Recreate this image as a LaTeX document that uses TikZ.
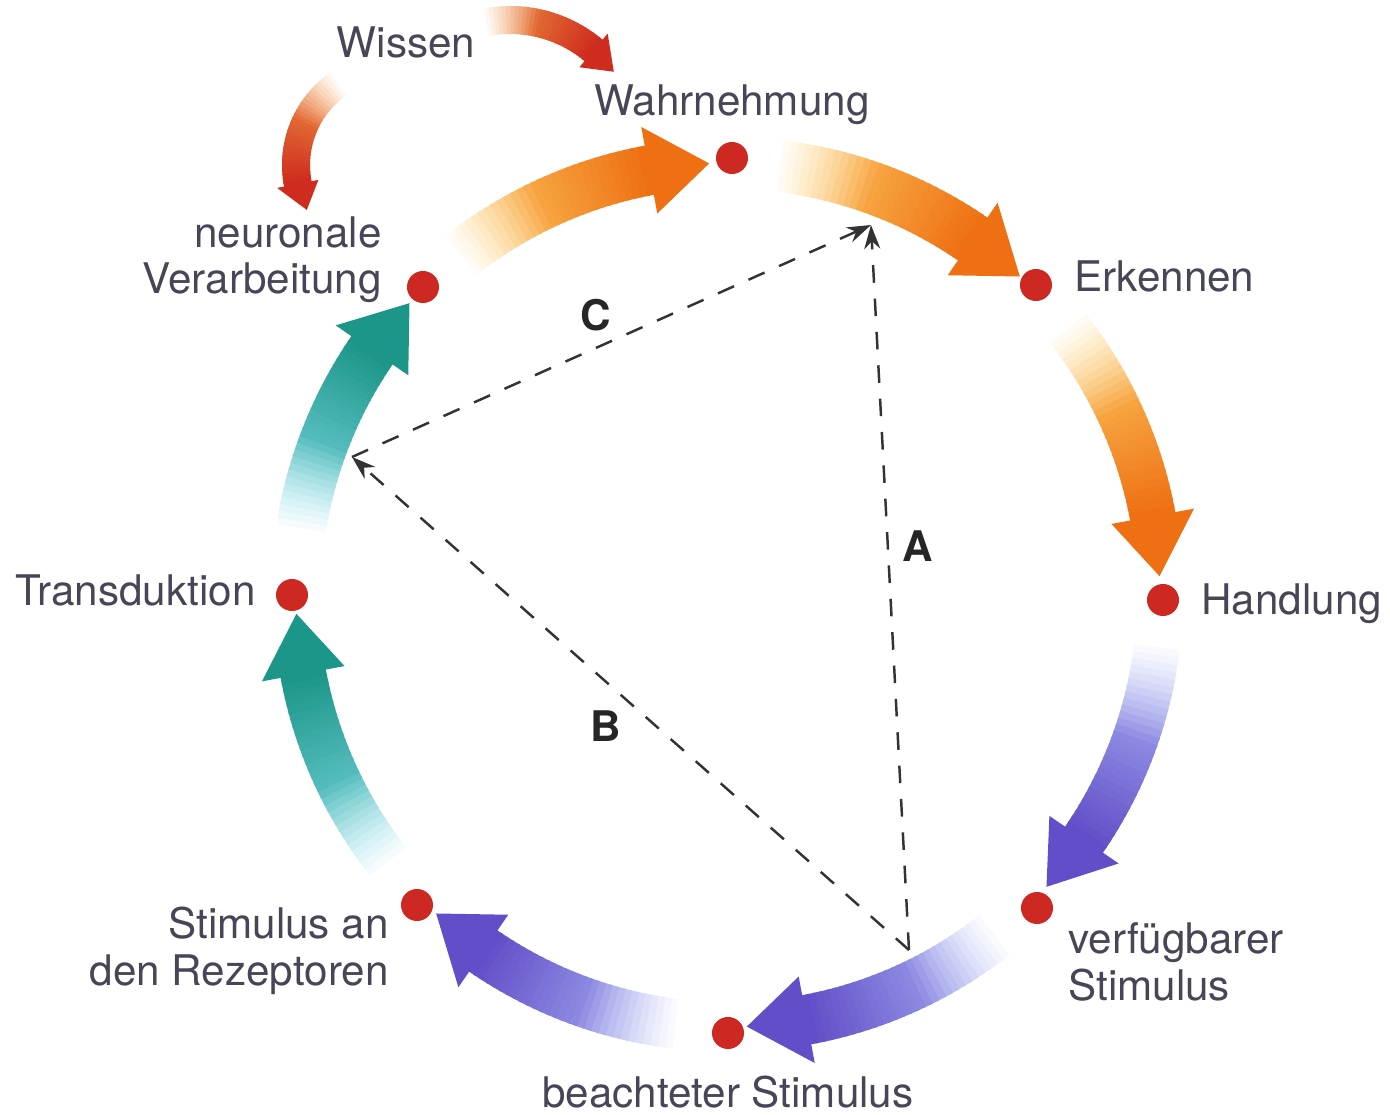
\documentclass[tikz,border=0pt]{standalone}
\usepackage{fontspec}
\setmainfont{TeX Gyre Heros}
\usetikzlibrary{positioning,arrows.meta}

\definecolor{dotred}{RGB}{206,40,34}
\definecolor{txtgray}{RGB}{70,70,86}
\definecolor{orDark}{RGB}{238,112,18}
\definecolor{orLight}{RGB}{255,214,110}
\definecolor{blDark}{RGB}{98,78,200}
\definecolor{blLight}{RGB}{180,195,250}
\definecolor{tlDark}{RGB}{28,150,136}
\definecolor{tlLight}{RGB}{140,225,240}
\definecolor{rdDark}{RGB}{206,44,30}
\definecolor{rdLight}{RGB}{245,160,70}

% #1 centre, #2 radius, #3 tail angle, #4 head base angle, #5 tip angle,
% #6 half shaft width, #7 half head width, #8 dark colour, #9 light colour
\newcommand{\fadearrow}[9]{%
  \begin{scope}[shift={#1}]
    \pgfmathsetmacro{\ro}{#2+#6}
    \pgfmathsetmacro{\ri}{#2-#6}
    \foreach \k in {1,...,30} {
      \pgfmathsetmacro{\ta}{#3+(#4-#3)*(\k-1)/30}
      \pgfmathsetmacro{\tb}{#3+(#4-#3)*(\k+0.4)/30}
      \pgfmathsetmacro{\mix}{100*\k/30}
      \pgfmathsetmacro{\vis}{min(100,220*(\k-1)/30)}
      \fill[#8!\mix!#9!\vis!white] (\ta:\ro) arc[start angle=\ta, end angle=\tb, radius=\ro]
        -- (\tb:\ri) arc[start angle=\tb, end angle=\ta, radius=\ri] -- cycle;
    }
    \pgfmathsetmacro{\ho}{#2+#7}
    \pgfmathsetmacro{\hi}{#2-#7}
    \fill[#8] (#4:\ro) -- (#4:\ho) -- (#5:#2) -- (#4:\hi) -- (#4:\ri) -- cycle;
  \end{scope}
}

\tikzset{
  dot/.style = {circle, fill=dotred, minimum size=3.2mm, inner sep=0pt},
  lbl/.style = {text=txtgray, inner sep=0pt, font=\fontsize{12}{13.2}\selectfont},
  abc/.style = {text=black!85, inner sep=0pt, font=\fontsize{12}{13.2}\selectfont\bfseries},
  dashline/.style = {draw=black!80, line width=0.7pt, dash pattern=on 5pt off 4.5pt,
    -{Stealth[length=2.4mm, width=1.6mm]}}
}

\begin{document}
\begin{tikzpicture}[x=0.01cm, y=0.01cm]
\useasboundingbox (-728,-520) rectangle (662,595);

% ring arrows
\fadearrow{(0,0)}{432}{129}{100.5}{92.5}{25}{44}{orDark}{orLight}
\fadearrow{(0,0)}{432}{84}{55.5}{47.5}{26}{44}{orDark}{orLight}
\fadearrow{(0,0)}{432}{39}{10.5}{2.5}{23}{42}{orDark}{orLight}
\fadearrow{(0,0)}{432}{-6}{-34.5}{-42.5}{23}{42}{blDark}{blLight}
\fadearrow{(0,0)}{432}{-51}{-79.5}{-87.5}{25}{44}{blDark}{blLight}
\fadearrow{(0,0)}{432}{-96}{-124.5}{-132.5}{25}{44}{blDark}{blLight}
\fadearrow{(0,0)}{432}{-141}{-169.5}{-177.5}{23}{42}{tlDark}{tlLight}
\fadearrow{(0,0)}{432}{172}{145.5}{137.5}{25}{44}{tlDark}{tlLight}

% Wissen arrows
\fadearrow{(-218,445)}{130}{102}{50}{37}{14}{22}{rdDark}{rdLight}
\fadearrow{(-333,430)}{99}{123}{191}{207}{14}{21}{rdDark}{rdLight}

% stations
\node[dot] (wahr) at (4,437) {};
\node[dot] (erk) at (308,310) {};
\node[dot] (hand) at (435,-5) {};
\node[dot] (verf) at (309,-313) {};
\node[dot] (beach) at (0,-438) {};
\node[dot] (rez) at (-311,-310) {};
\node[dot] (trans) at (-436,0) {};
\node[dot] (neur) at (-305,308) {};

\node[lbl, above=0.16cm of wahr] {Wahrnehmung};
\node[lbl, right=0.21cm of erk, yshift=0.09cm] {Erkennen};
\node[lbl, right=0.21cm of hand, yshift=-0.04cm] {Handlung};
\node[lbl, right=0.14cm of verf, align=left, yshift=-0.54cm] {verfügbarer\\Stimulus};
\node[lbl, below=0.26cm of beach] {beachteter Stimulus};
\node[lbl, left=0.11cm of rez, align=right, yshift=-0.46cm] {Stimulus an\\den Rezeptoren};
\node[lbl, left=0.19cm of trans, yshift=0.05cm] {Transduktion};
\node[lbl, left=0.24cm of neur, align=right, yshift=0.27cm] {neuronale\\Verarbeitung};
\node[lbl] (wissen) at (-322,553) {Wissen};

% triangle A B C
\coordinate (apex) at (143,370);
\coordinate (lft) at (-376,138);
\coordinate (bot) at (181,-355);
\draw[dashline] (bot) -- node[abc, pos=0.557, xshift=0.3cm] {A} (apex);
\draw[dashline] (bot) -- node[abc, pos=0.545, yshift=-0.45cm] {B} (lft);
\draw[dashline] (lft) -- node[abc, pos=0.47, yshift=0.33cm] {C} (apex);

\end{tikzpicture}
\end{document}
